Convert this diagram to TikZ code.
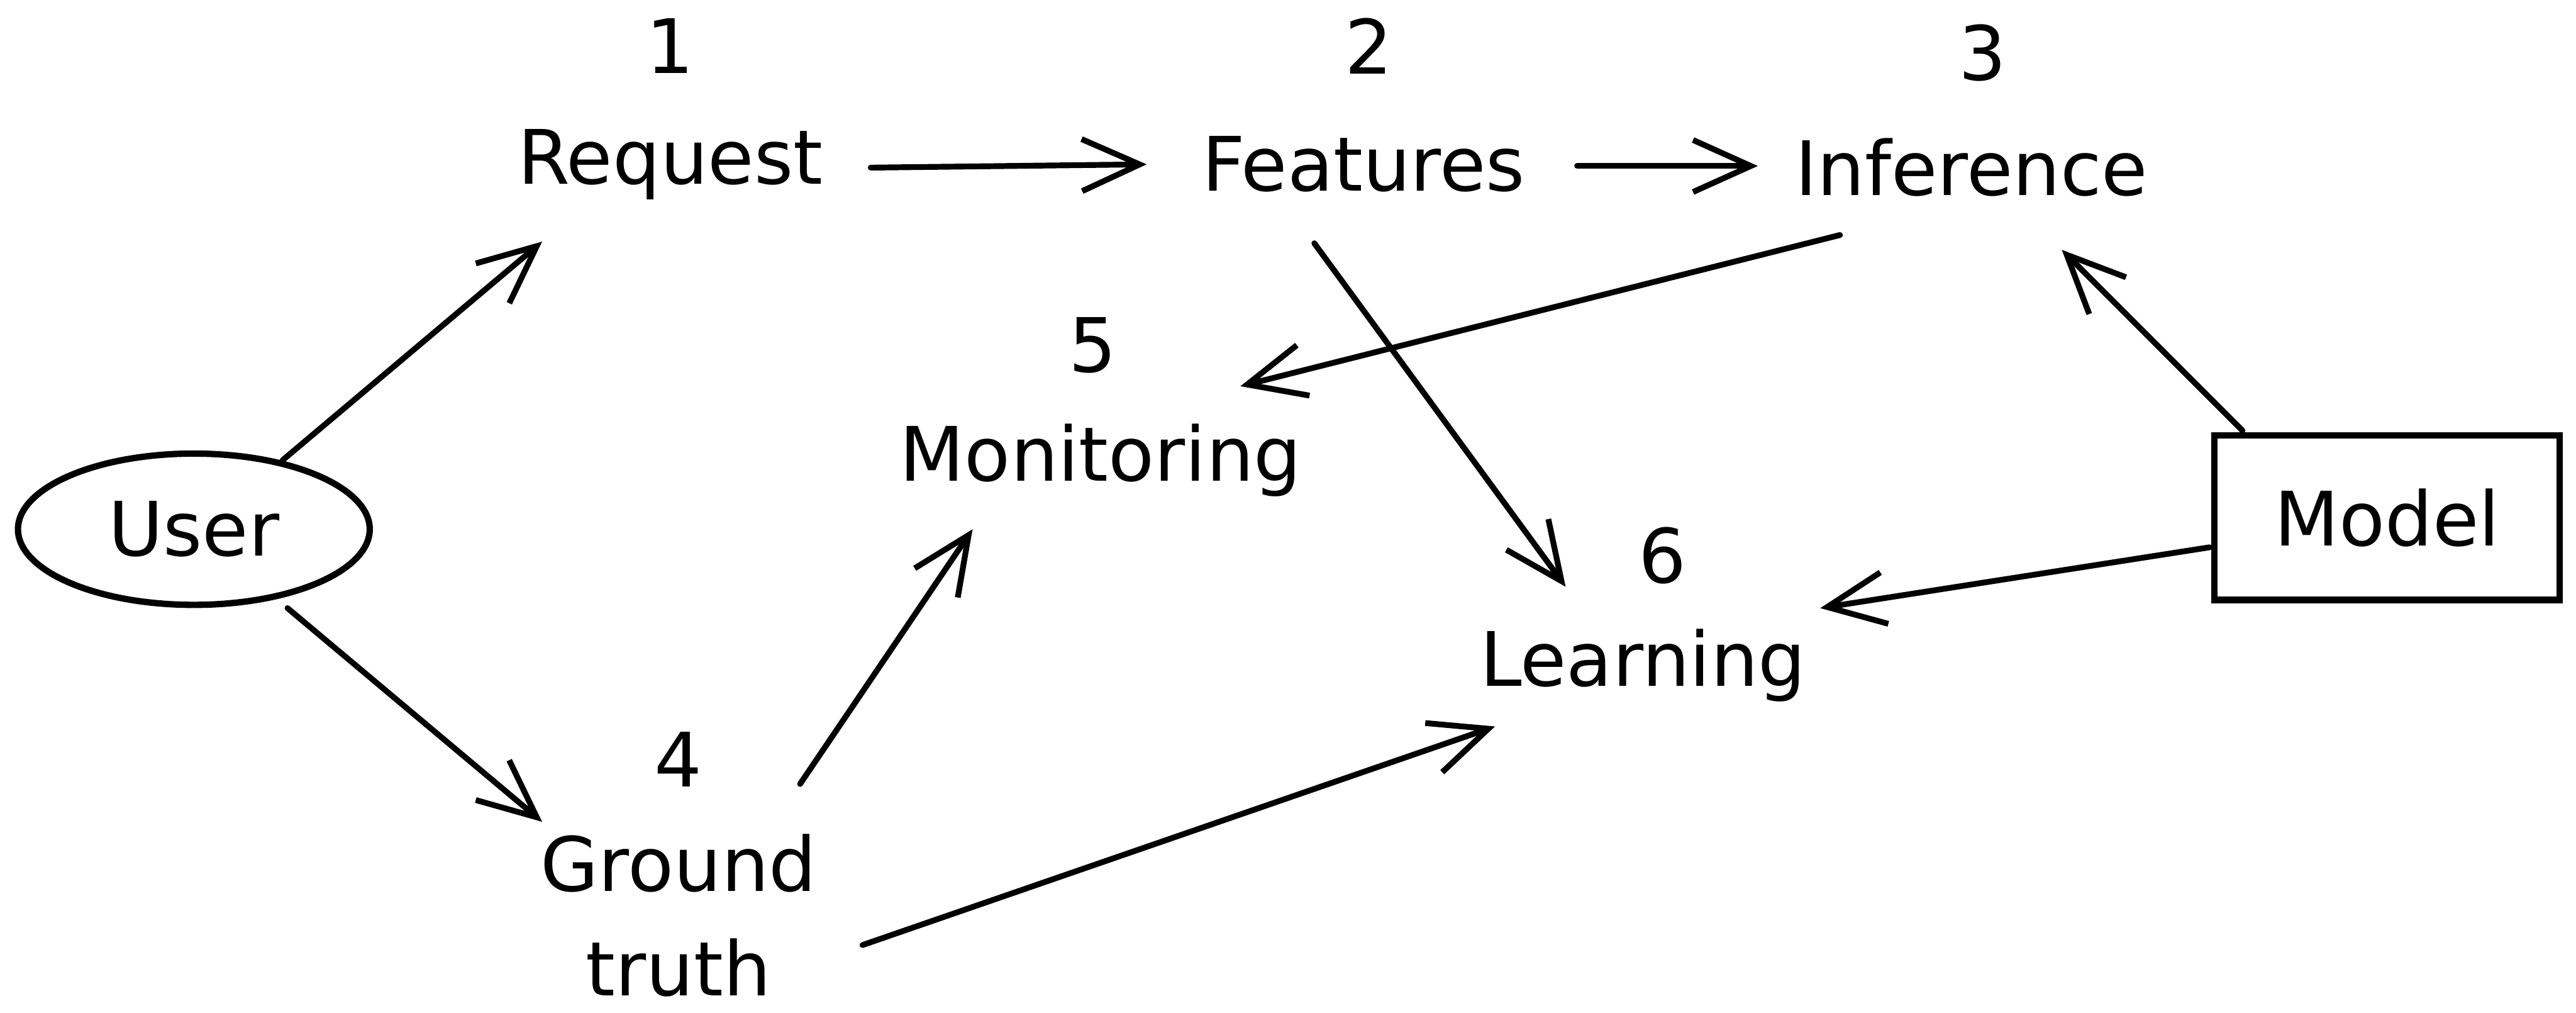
\documentclass[tikz,border=0pt]{standalone}
\usepackage{fontspec}
\setmainfont{DejaVu Sans}
\usetikzlibrary{arrows.meta,calc,shapes.geometric}
\begin{document}
\begin{tikzpicture}[x=0.01cm,y=-0.01cm,
  lbl/.style={font=\fontsize{13}{18}\selectfont, inner sep=0pt},
  num/.style={font=\fontsize{13}{16}\selectfont, inner sep=0pt},
  arr/.style={line width=1pt, line cap=round, -{Straight Barb[length=10pt,width=9pt,line width=1pt]}},
  shapeline/.style={draw, line width=1.1pt}]
\useasboundingbox[fill=white] (0,0) rectangle (1568,616);
% numbers
\node[num] (n1) at (408,28) {1};
\node[num] (n2) at (833,28) {2};
\node[num] (n3) at (1207,32) {3};
\node[num] (n5) at (665,210) {5};
\node[num] (n6) at (1012,338) {6};
\node[num] (n4) at (413,462) {4};
% labels
\node[lbl] (req) at (408,100) {Request};
\node[lbl] (feat) at (830,100) {Features};
\node[lbl] (inf) at (1200,102) {Inference};
\node[lbl] (mon) at (670,280) {Monitoring};
\node[lbl] (learn) at (1000,405) {Learning};
\node[lbl, align=center] (gt) at (413,557) {Ground\\truth};
\node[lbl, shapeline, ellipse, minimum width=2.14cm, minimum height=0.92cm] (user) at (118,322) {User};
\node[lbl, shapeline, rectangle, minimum width=2.1cm, minimum height=1.0cm] (model) at (1453,315) {Model};
% connectors
\draw[arr] ($(user)+(54,-42)$) -- ($(req)+(-78,47)$);
\draw[arr] ($(user)+(57,48)$) -- ($(gt)+(-83,-57)$);
\draw[arr] ($(req)+(122,2)$) -- ($(feat)+(-132,0)$);
\draw[arr] ($(feat)+(130,1)$) -- ($(inf)+(-130,-1)$);
\draw[arr] ($(inf)+(-80,41)$) -- ($(mon)+(85,-45)$);
\draw[arr] ($(feat)+(-30,48)$) -- ($(learn)+(-47,-48)$);
\draw[arr] ($(gt)+(74,-80)$) -- ($(mon)+(-78,42)$);
\draw[arr] ($(gt)+(112,18)$) -- ($(learn)+(-90,37)$);
\draw[arr] ($(model)+(-88,-53)$) -- ($(inf)+(55,50)$);
\draw[arr] ($(model)+(-108,18)$) -- ($(learn)+(108,-35)$);
\end{tikzpicture}
\end{document}
